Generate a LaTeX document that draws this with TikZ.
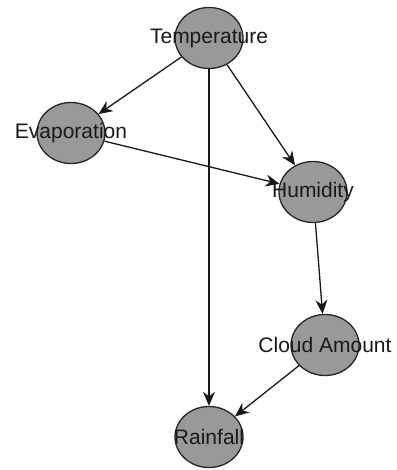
\documentclass[tikz,border=0pt]{standalone}
\usepackage{fontspec}
\setmainfont{Liberation Sans}
\usetikzlibrary{shapes.geometric,arrows.meta}

\tikzset{
  var/.style={ellipse,draw=black!85,fill=black!40,line width=1.3pt,
    minimum width=68pt,minimum height=61pt,inner sep=0pt,
    label={[font=\fontsize{21}{23}\selectfont,text=black!90]center:#1}},
  link/.style={-{Stealth[length=14pt,width=12pt]},line width=1.3pt,draw=black!90}
}

\begin{document}
\begin{tikzpicture}[x=1pt,y=-1pt]
  \useasboundingbox (0,0) rectangle (396,470);
  % variables
  \node[var=Temperature] (temp) at (209,38) {};
  \node[var=Evaporation] (evap) at (71,133) {};
  \node[var=Humidity] (humid) at (313,192) {};
  \node[var={Cloud Amount}] (cloud) at (325,345) {};
  \node[var=Rainfall] (rain) at (209,437) {};
  % dependencies
  \draw[link] (temp) -- (evap);
  \draw[link] (temp) -- (humid);
  \draw[link] (temp) -- (rain);
  \draw[link] (evap) -- (humid);
  \draw[link] (humid) -- (cloud);
  \draw[link] (cloud) -- (rain);
\end{tikzpicture}
\end{document}
